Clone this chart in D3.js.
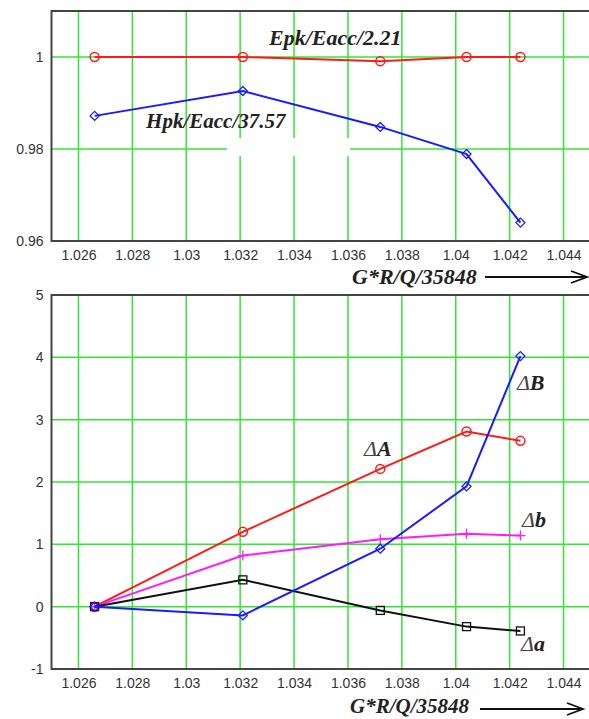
<!DOCTYPE html>
<html>
<head>
<meta charset="utf-8">
<script src="https://cdn.jsdelivr.net/npm/d3@7"></script>
<style>
  body { margin: 0; background: #fff; }
  svg { display: block; }
  .tick text { font-family: "Liberation Sans", Arial, sans-serif; font-size: 14px; fill: #333; }
  .lbl { font-family: "Liberation Serif", "Times New Roman", serif; font-weight: bold; font-style: italic; fill: #222; }
</style>
</head>
<body>
<script>
// x positions (G*R/Q/35848) shared by both panels
var xVals = [1.0266, 1.0321, 1.0372, 1.0404, 1.0424];

// top panel: normalised peak fields
var epk = [1.0, 1.0, 0.9991, 1.0, 1.0];
var hpk = [0.9872, 0.9926, 0.9848, 0.9789, 0.9640];

// bottom panel: deltas
var dA = [0, 1.20, 2.21, 2.81, 2.66];
var db = [0, 0.82, 1.08, 1.17, 1.14];
var da = [0, 0.43, -0.06, -0.32, -0.39];
var dB = [0, -0.14, 0.93, 1.93, 4.02];

var xTicks = [1.026, 1.028, 1.03, 1.032, 1.034, 1.036, 1.038, 1.04, 1.042, 1.044];
var topYTicks = [0.96, 0.98, 1];
var botYTicks = [-1, 0, 1, 2, 3, 4, 5];

var W = 589, H = 719;
var green = "#33e633", frameCol = "#444";

var svg = d3.select("body").append("svg")
    .attr("width", W)
    .attr("height", H);

var fmt = function(d){ return String(+d.toFixed(3)); };

var x = d3.scaleLinear().domain([1.025, 1.045]).range([51.5, 590.5]);

// draw one framed panel with green grid, returns y scale
function panel(top, bottom, yDomain, yTicks){
    var y = d3.scaleLinear().domain(yDomain).range([bottom, top]);
    var g = svg.append("g");

    // grid
    g.selectAll(".vgrid").data(xTicks).enter().append("line")
        .attr("x1", function(d){ return x(d); })
        .attr("x2", function(d){ return x(d); })
        .attr("y1", top).attr("y2", bottom)
        .attr("stroke", green).attr("stroke-width", 1.5);
    g.selectAll(".hgrid").data(yTicks).enter().append("line")
        .attr("x1", x.range()[0]).attr("x2", x.range()[1])
        .attr("y1", function(d){ return y(d); })
        .attr("y2", function(d){ return y(d); })
        .attr("stroke", green).attr("stroke-width", 1.5);

    // axes (labels only, grid drawn above)
    svg.append("g")
        .attr("transform", "translate(0," + bottom + ")")
        .call(d3.axisBottom(x).tickValues(xTicks).tickFormat(fmt).tickSize(0).tickPadding(9))
        .call(function(a){ a.select(".domain").remove(); });
    svg.append("g")
        .attr("transform", "translate(" + x.range()[0] + ",0)")
        .call(d3.axisLeft(y).tickValues(yTicks).tickFormat(fmt).tickSize(0).tickPadding(8))
        .call(function(a){ a.select(".domain").remove(); });

    return y;
}

function frame(top, bottom){
    svg.append("path")
        .attr("d", "M" + x.range()[1] + "," + top + "H" + x.range()[0] + "V" + bottom + "H" + x.range()[1])
        .attr("fill", "none")
        .attr("stroke", frameCol)
        .attr("stroke-width", 2);
}

function series(y, vals, color, marker){
    var pts = xVals.map(function(d, i){ return [x(d), y(vals[i])]; });
    svg.append("path")
        .datum(pts)
        .attr("d", d3.line())
        .attr("fill", "none")
        .attr("stroke", color)
        .attr("stroke-width", 2);

    var m = svg.append("g").selectAll("g").data(pts).enter().append("g")
        .attr("transform", function(d){ return "translate(" + d[0] + "," + d[1] + ")"; });
    if (marker == "circle"){
        m.append("circle").attr("r", 4.5).attr("fill", "none").attr("stroke", color).attr("stroke-width", 1.5);
    } else if (marker == "diamond"){
        m.append("path").attr("d", "M0,-4.5L4.5,0L0,4.5L-4.5,0Z").attr("fill", "none").attr("stroke", color).attr("stroke-width", 1.3);
    } else if (marker == "square"){
        m.append("rect").attr("x", -4).attr("y", -4).attr("width", 8).attr("height", 8)
            .attr("fill", "none").attr("stroke", color).attr("stroke-width", 1.3);
    } else if (marker == "plus"){
        m.append("path").attr("d", "M-5,0H5M0,-5V5").attr("stroke", color).attr("stroke-width", 1.3);
    }
}

function label(px, py, delta, letter, size){
    var t = svg.append("text").attr("class", "lbl")
        .attr("x", px).attr("y", py)
        .style("font-size", size + "px");
    if (delta){
        t.append("tspan").text("\u0394").style("font-weight", "normal").style("fill", "#444");
    }
    t.append("tspan").text(letter);
}

function axisTitle(px, py, arrowX1, arrowX2, arrowY, size){
    svg.append("text").attr("class", "lbl")
        .attr("x", px).attr("y", py)
        .style("font-size", size + "px")
        .text("G*R/Q/35848");
    svg.append("line")
        .attr("x1", arrowX1).attr("x2", arrowX2)
        .attr("y1", arrowY).attr("y2", arrowY)
        .attr("stroke", "#111").attr("stroke-width", 1.8);
    svg.append("path")
        .attr("d", "M" + (arrowX2 - 16) + "," + (arrowY - 6) + "L" + arrowX2 + "," + arrowY + "L" + (arrowX2 - 16) + "," + (arrowY + 6))
        .attr("fill", "none").attr("stroke", "#111").attr("stroke-width", 1.8);
}

// ---- top panel
var yTop = panel(11, 241, [0.96, 1.01], topYTicks);
// white patch behind the Hpk label area (as in the original)
svg.append("rect")
    .attr("x", x(1.03151)).attr("y", yTop(0.98239))
    .attr("width", x(1.03608) - x(1.03151))
    .attr("height", yTop(0.97848) - yTop(0.98239))
    .attr("fill", "#fff");
frame(11, 241);
series(yTop, epk, "#ff1a1a", "circle");
series(yTop, hpk, "#1a1aff", "diamond");
label(x(1.03307), yTop(1.00261), false, "Epk/Eacc/2.21", 22);
label(x(1.02851), yTop(0.98457), false, "Hpk/Eacc/37.57", 21);
axisTitle(352, 284, 485, 587, 277, 22);

// ---- bottom panel
var yBot = panel(295, 669, [-1, 5], botYTicks);
frame(295, 669);
series(yBot, dA, "#ff1a1a", "circle");
series(yBot, db, "#ff1aff", "plus");
series(yBot, da, "#111", "square");
series(yBot, dB, "#1a1aff", "diamond");
label(x(1.04227), yBot(3.476), true, "B", 22);
label(x(1.0366), yBot(2.417), true, "A", 22);
label(x(1.04246), yBot(1.278), true, "b", 22);
label(x(1.04242), yBot(-0.712), true, "a", 22);
axisTitle(350, 713, 480, 583, 709, 21);
</script>
</body>
</html>
